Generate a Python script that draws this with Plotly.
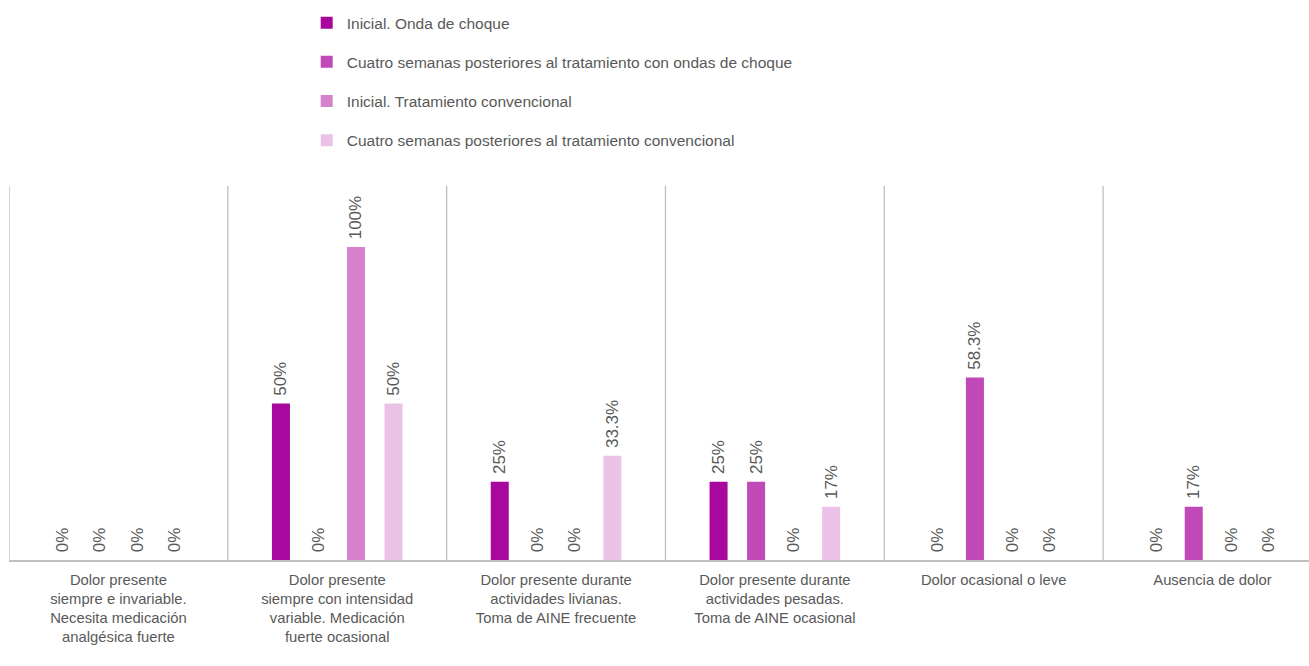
import plotly.graph_objects as go

# Pain-level categories (x axis)
categories = [
    "Dolor presente<br>siempre e invariable.<br>Necesita medicación<br>analgésica fuerte",
    "Dolor presente<br>siempre con intensidad<br>variable. Medicación<br>fuerte ocasional",
    "Dolor presente durante<br>actividades livianas.<br>Toma de AINE frecuente",
    "Dolor presente durante<br>actividades pesadas.<br>Toma de AINE ocasional",
    "Dolor ocasional o leve",
    "Ausencia de dolor",
]

series_names = [
    "Inicial. Onda de choque",
    "Cuatro semanas posteriores al tratamiento con ondas de choque",
    "Inicial. Tratamiento convencional",
    "Cuatro semanas posteriores al tratamiento convencional",
]

inicial_choque = [0, 50, 25, 25, 0, 0]
post_choque = [0, 0, 0, 25, 58.3, 17]
inicial_convencional = [0, 100, 0, 0, 0, 0]
post_convencional = [0, 50, 33.3, 17, 0, 0]

series_values = [inicial_choque, post_choque, inicial_convencional, post_convencional]
colors = ["#A9089F", "#C148B7", "#D581CC", "#EAC2E8"]

FONT = "Liberation Sans, Arial, sans-serif"
TEXT_COLOR = "#595959"
LINE_COLOR = "#BFBFBF"

fig = go.Figure()
for i, (name, vals, col) in enumerate(zip(series_names, series_values, colors)):
    fig.add_trace(go.Bar(
        x=list(range(len(categories))),
        y=vals,
        name=name,
        legendgroup=f"g{i}",
        marker=dict(color=col, line=dict(width=0)),
        # a leading no-break space lifts the rotated label off the bar top
        text=[f"\u00a0{v:g}%" for v in vals],
        textposition="outside",
        textangle=-90,
        constraintext="none",
        cliponaxis=False,
        textfont=dict(family=FONT, size=17, color=TEXT_COLOR),
    ))

# Category separators
for k in range(len(categories)):
    fig.add_shape(type="line", xref="x", yref="y",
                  x0=k - 0.5, x1=k - 0.5, y0=0, y1=119.5,
                  line=dict(color=LINE_COLOR, width=1.3), layer="below")

fig.update_layout(
    width=1309,
    height=666,
    margin=dict(l=9, r=0, t=186, b=106, autoexpand=False),
    paper_bgcolor="white",
    plot_bgcolor="white",
    barmode="group",
    bargap=0.314,
    bargroupgap=0.52,
    font=dict(family=FONT, color=TEXT_COLOR, size=15),
    showlegend=True,
    legend=dict(
        orientation="v",
        xref="paper", yref="paper",
        x=0.229, y=1.481, xanchor="left", yanchor="top",
        font=dict(family=FONT, size=15.5, color=TEXT_COLOR),
        tracegroupgap=16,
        traceorder="grouped",
        bgcolor="rgba(0,0,0,0)",
    ),
    xaxis=dict(
        tickmode="array",
        tickvals=list(range(len(categories))),
        ticktext=categories,
        tickangle=0,
        automargin=False,
        ticklabelstandoff=5,
        range=[-0.5, 5.441],
        showgrid=False,
        zeroline=False,
        showline=True,
        linecolor=LINE_COLOR,
        linewidth=2,
        ticks="",
        tickfont=dict(family=FONT, size=14.8, color=TEXT_COLOR),
        fixedrange=True,
    ),
    yaxis=dict(
        range=[0, 119.5],
        automargin=False,
        showgrid=False,
        zeroline=False,
        showticklabels=False,
        showline=False,
        fixedrange=True,
    ),
)

fig.write_html("out.html", config={"displayModeBar": False})
